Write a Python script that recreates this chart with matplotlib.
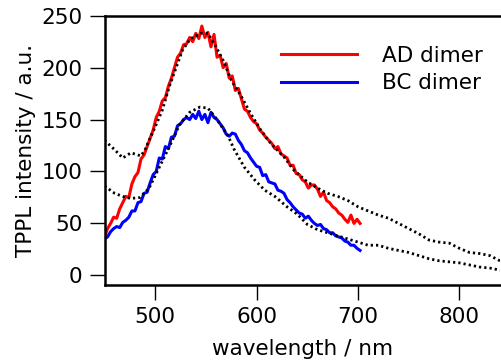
import numpy as np
import matplotlib
matplotlib.use("Agg")
import matplotlib.pyplot as plt

# ---- data ----
ad_wl = list(range(450, 703, 3))
ad_int = [37, 45, 50, 56, 55, 64, 70, 76, 75, 88, 95, 99, 112, 116, 124, 132, 140, 152,
          158, 168, 171, 182, 190, 200, 210, 214, 222, 223, 229, 225, 233, 228, 240, 229,
          234, 220, 232, 210, 212, 200, 204, 190, 192, 178, 180, 170, 160, 158, 152, 148,
          146, 140, 137, 133, 130, 127, 122, 124, 117, 115, 113, 106, 106, 98, 97, 92, 90,
          84, 87, 87, 83, 76, 80, 72, 70, 66, 64, 60, 58, 54, 51, 58, 50, 54, 50]

bc_wl = list(range(450, 703, 3))
bc_int = [35, 37, 42, 45, 47, 46, 51, 53, 56, 62, 62, 70, 71, 79, 80, 89, 97, 100, 113,
          112, 124, 122, 133, 134, 144, 146, 150, 152, 150, 155, 151, 158, 150, 155, 147,
          157, 152, 150, 146, 142, 136, 134, 137, 136, 130, 126, 120, 118, 113, 109, 105,
          104, 96, 97, 90, 89, 88, 82, 81, 79, 73, 70, 66, 63, 60, 59, 55, 57, 53, 50, 48,
          49, 45, 44, 41, 41, 38, 37, 36, 33, 32, 29, 29, 26, 24]

fit_ad_wl = [450, 460, 468, 476, 486, 490, 494, 500, 507, 514, 521, 527, 535, 545, 552,
             560, 567, 575, 585, 594, 604, 614, 627, 637, 650, 660, 670, 680, 690, 700,
             710, 720, 730, 740, 750, 760, 770, 780, 790, 800, 810, 820, 830, 840]
fit_ad = [130, 121, 113, 118, 115, 121, 130, 143, 159, 182, 201, 217, 228, 233, 233, 220,
          207, 188, 172, 156, 140, 127, 114, 101, 90, 84, 79, 76, 72, 66, 62, 58, 55, 50,
          45, 40, 34, 32, 31, 26, 22, 21, 19, 14]

fit_bc_wl = [450, 460, 468, 476, 485, 494, 504, 514, 524, 534, 544, 552, 561, 572, 578,
             588, 598, 608, 618, 630, 640, 650, 660, 670, 680, 690, 700, 710, 720, 730,
             740, 750, 760, 770, 780, 790, 800, 810, 820, 830, 840]
fit_bc = [86, 79, 76, 74, 75, 84, 104, 124, 145, 157, 162, 161, 150, 134, 121, 104, 92,
          82, 76, 66, 59, 49, 44, 41, 38, 35, 32, 29, 29, 26, 24, 22, 19, 16, 14, 13, 12,
          10, 8, 7, 5]

labels = ["AD dimer", "BC dimer"]
xticks = [500, 600, 700, 800]
yticks = [0, 50, 100, 150, 200, 250]

# ---- plot ----
plt.rcParams['font.family'] = ['DejaVu Sans']
fs = 15.5
fig = plt.figure(figsize=(5.01, 3.62), dpi=100)
ax = fig.add_axes([104.5/501, 77.3/362, (500-104.5)/501, (346.3-77.3)/362])

ax.plot(ad_wl, ad_int, color='#ff0000', lw=2.2, label=labels[0], zorder=2)
ax.plot(bc_wl, bc_int, color='#0000ff', lw=2.2, label=labels[1], zorder=2)
dot = (0, (0.8, 1.1))
ax.plot(fit_ad_wl, fit_ad, color='black', lw=2.0, linestyle=dot, zorder=3)
ax.plot(fit_bc_wl, fit_bc, color='black', lw=2.0, linestyle=dot, zorder=3)

ax.set_xlim(450, 840)
ax.set_ylim(-9, 250)
ax.set_xticks(xticks)
ax.set_yticks(yticks)
ax.tick_params(direction='out', length=11, width=1.0, labelsize=fs, pad=5)
for s in ['left', 'bottom', 'top']:
    ax.spines[s].set_linewidth(1.8)
ax.spines['right'].set_visible(False)

ax.set_xlabel('wavelength / nm', fontsize=fs, labelpad=9)
ax.set_ylabel('TPPL intensity / a.u.', fontsize=fs, labelpad=4)

leg = ax.legend(loc='upper left', bbox_to_anchor=(0.425, 0.92), frameon=False,
                fontsize=fs, handlelength=3.5, handletextpad=1.2, labelspacing=0.35,
                borderaxespad=0)
fig.savefig('out.png', dpi=100)
